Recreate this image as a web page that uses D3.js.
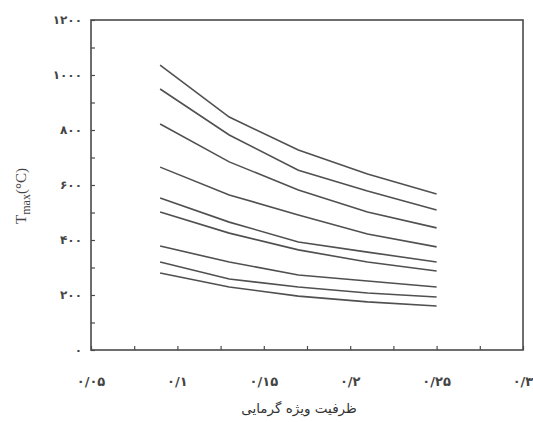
<!DOCTYPE html>
<html><head><meta charset="utf-8">
<script src="https://cdn.jsdelivr.net/npm/d3@7"></script>
<style>body{margin:0;background:#fff}</style>
</head><body>
<svg id="c" width="533" height="422"></svg>
<script>
const xValues = [0.09, 0.13, 0.17, 0.21, 0.25];
const series1 = [1036, 847, 727, 640, 567];
const series2 = [949, 782, 654, 578, 509];
const series3 = [822, 684, 582, 502, 444];
const series4 = [665, 564, 491, 422, 375];
const series5 = [553, 465, 393, 356, 320];
const series6 = [502, 425, 364, 320, 287];
const series7 = [378, 320, 273, 251, 229];
const series8 = [320, 258, 229, 207, 193];
const series9 = [280, 229, 196, 175, 160];
const xTicks = [0.05, 0.1, 0.15, 0.2, 0.25, 0.3];
const xTickLabels = ["۰/۰۵", "۰/۱", "۰/۱۵", "۰/۲", "۰/۲۵", "۰/۳"];
const yTicks = [0, 200, 400, 600, 800, 1000, 1200];
const yTickLabels = ["۰", "۲۰۰", "۴۰۰", "۶۰۰", "۸۰۰", "۱۰۰۰", "۱۲۰۰"];
const xTitle = "ظرفیت ویژه گرمایی";

const allSeries = [series1, series2, series3, series4, series5, series6, series7, series8, series9];
const svg = d3.select("#c");
const L = 91, R = 523, T = 20, B = 350;
const x = d3.scaleLinear().domain([0.05, 0.3]).range([L, R]);
const y = d3.scaleLinear().domain([0, 1200]).range([B, T]);
const ink = "#4a4a4a";

const xAll = d3.range(0.05, 0.3001, 0.025);
const yAll = d3.range(0, 1201, 100);
const gx = svg.append("g").attr("transform", `translate(0,${B})`)
  .call(d3.axisTop(x).tickValues(xAll).tickSize(4).tickFormat(""));
gx.select(".domain").remove();
gx.selectAll("line").attr("stroke", ink).attr("stroke-width", 1.2);
const gy = svg.append("g").attr("transform", `translate(${L},0)`)
  .call(d3.axisRight(y).tickValues(yAll).tickSize(4).tickFormat(""));
gy.select(".domain").remove();
gy.selectAll("line").attr("stroke", ink).attr("stroke-width", 1.2);

svg.append("rect").attr("x", L).attr("y", T).attr("width", R - L).attr("height", B - T)
  .attr("fill", "none").attr("stroke", ink).attr("stroke-width", 1.6);

svg.append("g").selectAll("text").data(xTicks).join("text")
  .attr("x", d => x(d)).attr("y", B + 36)
  .attr("text-anchor", "middle")
  .attr("font-family", "DejaVu Sans").attr("font-size", 13).attr("font-weight", "bold")
  .attr("letter-spacing", 2.5).attr("fill", "#444")
  .attr("direction", "ltr")
  .text((d, i) => xTickLabels[i]);
svg.append("g").selectAll("text").data(yTicks).join("text")
  .attr("x", L - 9).attr("y", d => y(d) + 4)
  .attr("text-anchor", "end")
  .attr("font-family", "DejaVu Sans").attr("font-size", 12).attr("font-weight", "bold")
  .attr("letter-spacing", 2.5).attr("fill", "#444")
  .text((d, i) => yTickLabels[i]);

const line = d3.line().x((d, i) => x(xValues[i])).y(d => y(d));
svg.append("g").selectAll("path").data(allSeries).join("path")
  .attr("d", line).attr("fill", "none").attr("stroke", "#505050").attr("stroke-width", 1.6);

svg.append("text").attr("x", 299).attr("y", 413).attr("text-anchor", "middle")
  .attr("font-family", "DejaVu Sans").attr("font-size", 13.5).attr("fill", "#333")
  .text(xTitle);
const yt = svg.append("text").attr("transform", "translate(26,196) rotate(-90)")
  .attr("text-anchor", "middle").attr("font-family", "Liberation Serif").attr("font-size", 15).attr("fill", "#444");
yt.append("tspan").text("T");
yt.append("tspan").attr("font-size", 12).attr("dy", 4).text("max");
yt.append("tspan").attr("dy", -4).text("(°C)");
</script>
</body></html>
